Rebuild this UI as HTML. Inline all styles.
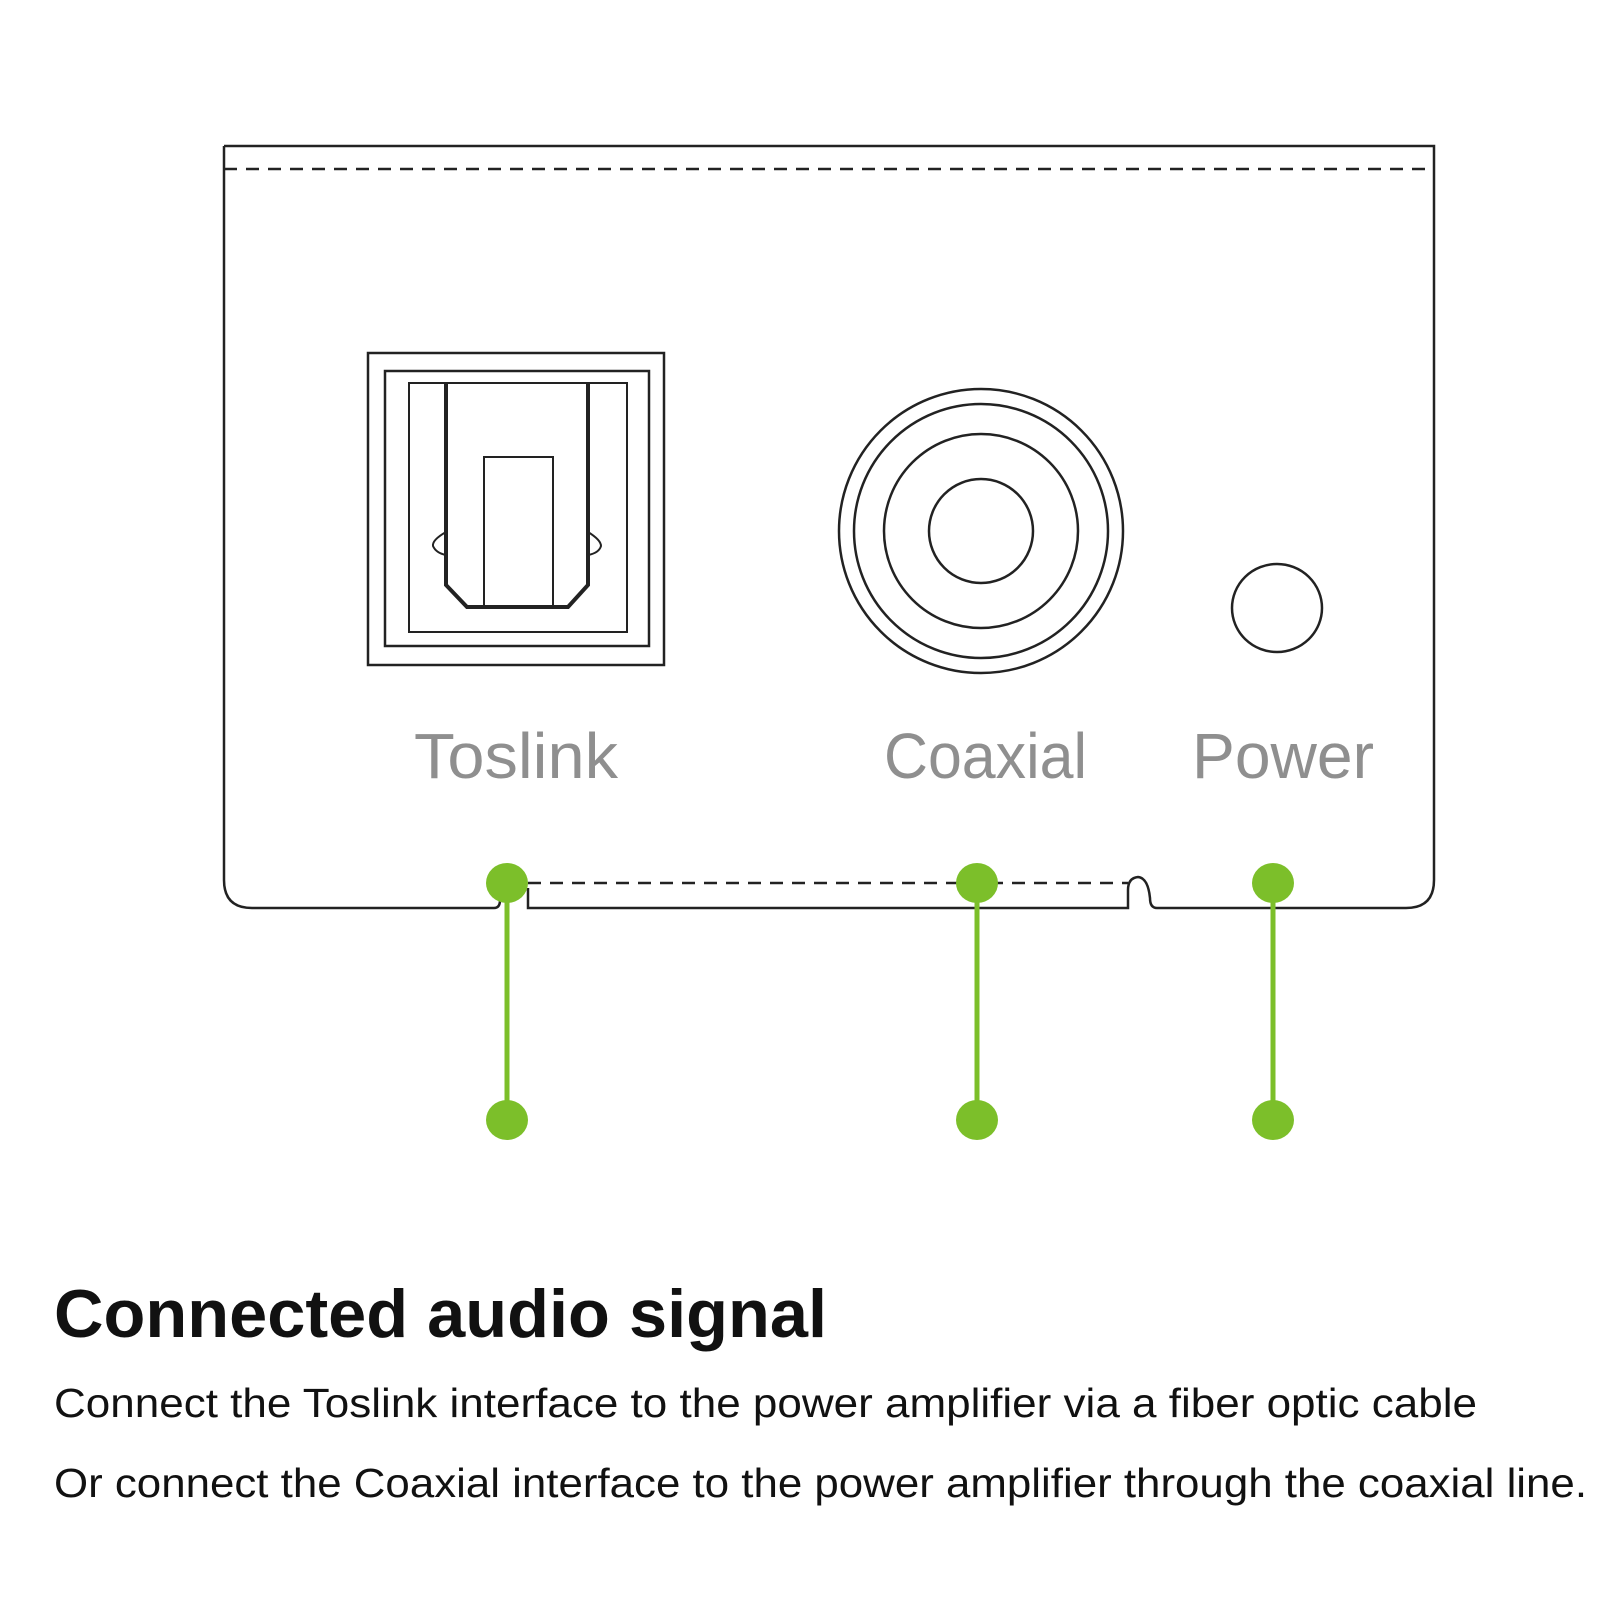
<!DOCTYPE html>
<html><head><meta charset="utf-8"><style>
html,body{margin:0;padding:0;background:#fff;}
svg{display:block;}
</style></head><body>
<svg width="1600" height="1600" viewBox="0 0 1600 1600" xmlns="http://www.w3.org/2000/svg">
<g fill="none" stroke="#222" stroke-width="2.5">
  <!-- box outline -->
  <path d="M224 146 H1434 V880 Q1434 908 1406 908 H1157 Q1150 908 1150 898 Q1148 878 1138 877 Q1128 878 1128 890 V908 H528 V888"/>
  <path d="M224 146 V880 Q224 908 252 908 H494 Q500 908 500 900"/>
  <line x1="224" y1="169" x2="1434" y2="169" stroke-dasharray="13 9"/>
  <line x1="528" y1="883" x2="1128" y2="883" stroke-dasharray="13 9"/>
  <!-- toslink -->
  <rect x="368" y="353" width="296" height="312"/>
  <rect x="385" y="371" width="264" height="275"/>
  <rect x="409" y="383" width="218" height="249" stroke-width="2"/>
  <path d="M446 384 V585 L467 607 H568 L588 585 V384" stroke-width="4"/>
  <path d="M446 532 Q432 540 433 546 Q436 553 446 555" stroke-width="2"/>
  <path d="M588 532 Q601 540 601 546 Q599 553 588 555" stroke-width="2"/>
  <rect x="484" y="457" width="69" height="150" stroke-width="2"/>
  <!-- coaxial -->
  <circle cx="981" cy="531" r="142"/>
  <circle cx="981" cy="531" r="127"/>
  <circle cx="981" cy="531" r="97"/>
  <circle cx="981" cy="531" r="52"/>
  <!-- power -->
  <ellipse cx="1277" cy="608" rx="45" ry="44"/>
</g>
<g font-family="Liberation Sans, sans-serif" font-size="64" fill="#8f8f8f">
  <text x="414" y="778" textLength="204" lengthAdjust="spacingAndGlyphs">Toslink</text>
  <text x="884" y="778" textLength="203" lengthAdjust="spacingAndGlyphs">Coaxial</text>
  <text x="1192" y="778" textLength="182" lengthAdjust="spacingAndGlyphs">Power</text>
</g>
<g stroke="#7cbf2a" stroke-width="5">
  <line x1="507" y1="883" x2="507" y2="1120"/>
  <line x1="977" y1="883" x2="977" y2="1120"/>
  <line x1="1273" y1="883" x2="1273" y2="1120"/>
</g>
<g fill="#7cbf2a">
  <ellipse cx="507" cy="883" rx="21" ry="20"/>
  <ellipse cx="507" cy="1120" rx="21" ry="20"/>
  <ellipse cx="977" cy="883" rx="21" ry="20"/>
  <ellipse cx="977" cy="1120" rx="21" ry="20"/>
  <ellipse cx="1273" cy="883" rx="21" ry="20"/>
  <ellipse cx="1273" cy="1120" rx="21" ry="20"/>
</g>
<g font-family="Liberation Sans, 'Noto Sans CJK JP', sans-serif" fill="#111">
  <text x="54" y="1337" font-size="68" font-weight="bold" textLength="773" lengthAdjust="spacingAndGlyphs">Connected audio signal</text>
  <text x="54" y="1417" font-size="41" textLength="1423" lengthAdjust="spacingAndGlyphs">Connect the Toslink interface to the power amplifier via a fiber optic cable</text>
  <text x="54" y="1497" font-size="41" textLength="1533" lengthAdjust="spacingAndGlyphs">Or connect the Coaxial interface to the power amplifier through the coaxial line.</text>
</g>
</svg>
</body></html>
